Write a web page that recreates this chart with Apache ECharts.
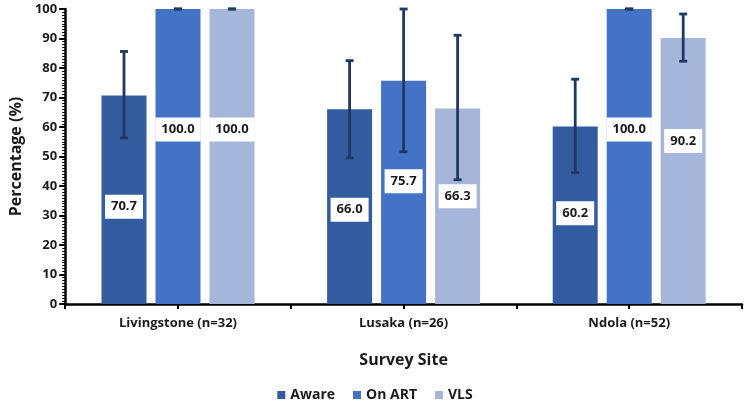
<!DOCTYPE html>
<html>
<head>
<meta charset="utf-8">
<script src="https://cdn.jsdelivr.net/npm/echarts@6/dist/echarts.min.js"></script>
<style>
  html, body { margin: 0; padding: 0; background: #fff; }
  #main { width: 750px; height: 410px; }
</style>
</head>
<body>
<div id="main"></div>
<script>
// data
var sites = ['Livingstone (n=32)', 'Lusaka (n=26)', 'Ndola (n=52)'];
var seriesNames = ['Aware', 'On ART', 'VLS'];
var aware = [70.7, 66.0, 60.2];
var onArt = [100.0, 75.7, 100.0];
var vls = [100.0, 66.3, 90.2];
// confidence limits (low / high)
var awareLow = [56.3, 49.5, 44.5];
var awareHigh = [85.6, 82.5, 76.2];
var onArtLow = [100, 51.6, 100];
var onArtHigh = [100, 100, 100];
var vlsLow = [100, 42.1, 82.3];
var vlsHigh = [100, 91.1, 98.3];
var yTicks = [0, 10, 20, 30, 40, 50, 60, 70, 80, 90, 100];

// styling
var colors = ['#335c9f', '#4472c4', '#a6b6db'];
var errColor = '#1f3864';
var textColor = '#1a1a1a';
var font = '"Open Sans", sans-serif';
var barW = 45;
var barGapPx = 9;
// the value boxes are not quite centred in the reference (px, + = down)
var labelShift = [[7, 3, -2], [-27, -11, -27], [-27, -10, -30]];

var values = [aware, onArt, vls];
var lows = [awareLow, onArtLow, vlsLow];
var highs = [awareHigh, onArtHigh, vlsHigh];

var myChart = echarts.init(document.getElementById('main'));

var series = [];
seriesNames.forEach(function (name, s) {
    series.push({
        name: name,
        type: 'bar',
        barWidth: barW,
        barGap: (barGapPx / barW * 100) + '%',
        itemStyle: { color: colors[s] },
        data: values[s].map(function (v, i) {
            return {
                value: v,
                label: { offset: [0, labelShift[s][i]] }
            };
        }),
        label: {
            show: true,
            position: 'inside',
            formatter: function (p) { return p.value.toFixed(1); },
            backgroundColor: '#fff',
            padding: [6, 6, 5, 6],
            color: textColor,
            fontFamily: font,
            fontWeight: 'bold',
            fontSize: 13
        },
        z: 2
    });
});

// error bars drawn on top of the bars
series.push({
    type: 'custom',
    name: 'err',
    z: 5,
    data: (function () {
        var out = [];
        for (var s = 0; s < 3; s++) {
            for (var i = 0; i < sites.length; i++) {
                out.push([i, lows[s][i], highs[s][i], s]);
            }
        }
        return out;
    })(),
    encode: { x: 0, y: [1, 2] },
    renderItem: function (params, api) {
        var i = api.value(0);
        var s = api.value(3);
        var shift = (s - 1) * (barW + barGapPx);
        var lo = api.coord([i, api.value(1)]);
        var hi = api.coord([i, api.value(2)]);
        var x = lo[0] + shift;
        var cap = 4;
        var style = { stroke: errColor, lineWidth: 2.8 };
        return {
            type: 'group',
            children: [
                { type: 'line', shape: { x1: x, y1: lo[1], x2: x, y2: hi[1] }, style: style },
                { type: 'line', shape: { x1: x - cap, y1: lo[1], x2: x + cap, y2: lo[1] }, style: style },
                { type: 'line', shape: { x1: x - cap, y1: hi[1], x2: x + cap, y2: hi[1] }, style: style }
            ]
        };
    },
    silent: true
});

var option = {
    backgroundColor: '#fff',
    animation: false,
    grid: { left: 64, right: 8, top: 9, bottom: 106 },
    legend: {
        data: seriesNames,
        bottom: 3,
        left: 'center',
        icon: 'rect',
        itemWidth: 8,
        itemHeight: 8,
        itemGap: 18,
        textStyle: { color: textColor, fontFamily: font, fontWeight: 'bold', fontSize: 14 }
    },
    xAxis: [{
        type: 'category',
        data: sites,
        name: 'Survey Site',
        nameLocation: 'middle',
        nameGap: 48,
        nameTextStyle: { color: textColor, fontFamily: font, fontWeight: 'bold', fontSize: 16 },
        axisLine: { lineStyle: { color: '#000', width: 2.5 } },
        axisTick: { show: false },
        axisLabel: { color: textColor, fontFamily: font, fontWeight: 'bold', fontSize: 13, margin: 13 }
    }, {
        type: 'value',
        position: 'bottom',
        min: 0,
        max: 3,
        interval: 0.5,
        axisLine: { show: false },
        axisTick: { show: true, length: 5, lineStyle: { color: '#000', width: 2 } },
        axisLabel: { show: false },
        splitLine: { show: false }
    }],
    yAxis: {
        type: 'value',
        min: yTicks[0],
        max: yTicks[yTicks.length - 1],
        interval: 10,
        name: 'Percentage (%)',
        nameLocation: 'middle',
        nameGap: 38,
        nameTextStyle: { color: textColor, fontFamily: font, fontWeight: 'bold', fontSize: 16 },
        axisLine: { show: true, lineStyle: { color: '#000', width: 2.5 } },
        axisTick: { show: true, length: 6, lineStyle: { color: '#000', width: 2 } },
        minorTick: { show: true, splitNumber: 10, length: 3, lineStyle: { color: '#000', width: 1 } },
        axisLabel: { color: textColor, fontFamily: font, fontWeight: 'bold', fontSize: 13, margin: 8 },
        splitLine: { show: false }
    },
    series: series
};

myChart.setOption(option);
</script>
</body>
</html>
